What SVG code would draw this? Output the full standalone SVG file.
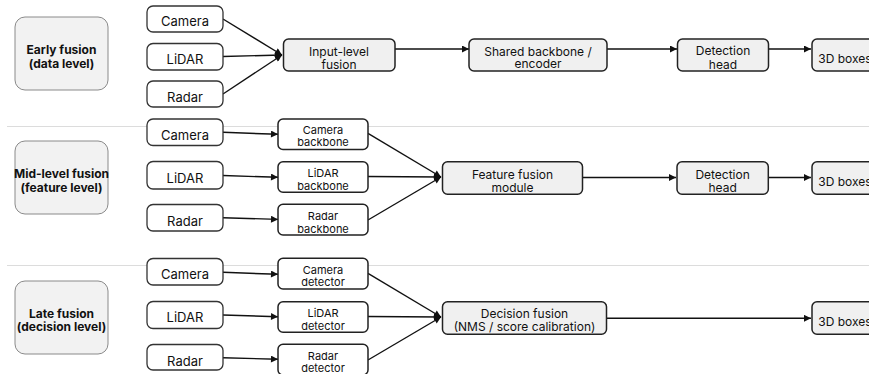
<svg xmlns="http://www.w3.org/2000/svg" width="869" height="374" viewBox="0 0 869 374">
<defs>
<style>
.lab rect{fill:#f2f2f2;stroke:#8a8a8a;stroke-width:1}
.lab text{font-family:Inter,"Liberation Sans",sans-serif;font-size:12px;font-weight:700;fill:#111;text-anchor:middle}
.inp rect{fill:#fff;stroke:#333;stroke-width:1.3}
.inp text{font-family:Inter,"Liberation Sans",sans-serif;font-size:13px;fill:#111;text-anchor:middle}
.mid rect{fill:#f0f0f0;stroke:#222;stroke-width:1.5}
.mid text{font-family:Inter,"Liberation Sans",sans-serif;font-size:12px;fill:#111;text-anchor:middle}
.sm rect{fill:#fff;stroke:#222;stroke-width:1.5}
.sm text{font-family:Inter,"Liberation Sans",sans-serif;font-size:11px;fill:#111;text-anchor:middle}
.sep{stroke:#dcdcdc;stroke-width:1}
.conn line{stroke:#111;stroke-width:1.4;marker-end:url(#ah)}
</style>
<marker id="ah" viewBox="0 0 10 10" refX="10" refY="5" markerWidth="8" markerHeight="7" markerUnits="userSpaceOnUse" orient="auto"><path d="M0,0 L10,5 L0,10 z" fill="#111"/></marker>
</defs>
<rect width="869" height="374" fill="#fff"/>
<line class="sep" x1="7" y1="126.5" x2="869" y2="126.5"/>
<line class="sep" x1="7" y1="265.5" x2="869" y2="265.5"/>

<g id="conn" class="conn">
<line x1="223" y1="19" x2="282" y2="55"/>
<line x1="223" y1="56.5" x2="282" y2="55"/>
<line x1="223" y1="94" x2="282" y2="55"/>
<line x1="395" y1="49" x2="469" y2="49"/>
<line x1="607" y1="49" x2="677" y2="49"/>
<line x1="768" y1="49" x2="811" y2="49"/>

<line x1="223" y1="132.3" x2="278" y2="134.3"/>
<line x1="223" y1="175.5" x2="278" y2="177.3"/>
<line x1="223" y1="217.7" x2="278" y2="219.4"/>
<line x1="368" y1="133.3" x2="441" y2="177"/>
<line x1="368" y1="176.5" x2="441" y2="177"/>
<line x1="368" y1="220" x2="441" y2="177"/>
<line x1="583" y1="177.5" x2="676" y2="177.5"/>
<line x1="768" y1="177.5" x2="811" y2="177.5"/>

<line x1="223" y1="272.3" x2="278" y2="274.3"/>
<line x1="223" y1="315" x2="278" y2="316.7"/>
<line x1="223" y1="357.7" x2="278" y2="359.3"/>
<line x1="368" y1="273.3" x2="441" y2="317"/>
<line x1="368" y1="316.5" x2="441" y2="317"/>
<line x1="368" y1="360" x2="441" y2="317"/>
<line x1="607" y1="318.3" x2="811" y2="318.3"/>
</g>

<g id="lab-early" class="lab"><rect x="15" y="17" width="93" height="73" rx="10"/><text x="61.5" y="53.5">Early fusion</text><text x="61.5" y="67.5">(data level)</text></g>
<g id="lab-mid" class="lab"><rect x="15" y="141" width="93" height="73" rx="10"/><text x="61.5" y="178.3">Mid-level fusion</text><text x="61.5" y="192">(feature level)</text></g>
<g id="lab-late" class="lab"><rect x="15" y="281" width="93" height="73" rx="10"/><text x="61.5" y="317.6">Late fusion</text><text x="61.5" y="331">(decision level)</text></g>

<g id="r1-camera" class="inp"><rect x="147" y="6" width="76" height="26" rx="6"/><text x="185" y="26.4">Camera</text></g>
<g id="r1-lidar" class="inp"><rect x="147" y="43.5" width="76" height="26.5" rx="6"/><text x="185" y="64">LiDAR</text></g>
<g id="r1-radar" class="inp"><rect x="147" y="81" width="76" height="26" rx="6"/><text x="185" y="102">Radar</text></g>

<g id="r2-camera" class="inp"><rect x="147" y="119" width="76" height="26.5" rx="6"/><text x="185" y="139.5">Camera</text></g>
<g id="r2-lidar" class="inp"><rect x="147" y="161.5" width="76" height="27.5" rx="6"/><text x="185" y="183">LiDAR</text></g>
<g id="r2-radar" class="inp"><rect x="147" y="204.5" width="76" height="26.5" rx="6"/><text x="185" y="225.7">Radar</text></g>

<g id="r3-camera" class="inp"><rect x="147" y="258.5" width="76" height="26.5" rx="6"/><text x="185" y="279">Camera</text></g>
<g id="r3-lidar" class="inp"><rect x="147" y="301.5" width="76" height="27" rx="6"/><text x="185" y="322.3">LiDAR</text></g>
<g id="r3-radar" class="inp"><rect x="147" y="344.5" width="76" height="25.5" rx="6"/><text x="185" y="365.7">Radar</text></g>

<g id="input-fusion" class="mid"><rect x="283.5" y="39" width="111.5" height="32" rx="5"/><text x="339" y="55.5">Input-level</text><text x="339" y="68.5">fusion</text></g>
<g id="shared-backbone" class="mid"><rect x="469" y="39" width="138" height="32" rx="5"/><text x="538" y="55.5">Shared backbone /</text><text x="538" y="68">encoder</text></g>
<g id="det-head-1" class="mid"><rect x="677.5" y="39" width="91" height="32" rx="5"/><text x="723" y="54.5">Detection</text><text x="723" y="68.5">head</text></g>
<g id="boxes-1" class="mid"><rect x="812" y="39" width="66" height="32" rx="5"/><text x="845" y="62.5">3D boxes</text></g>

<g id="cam-backbone" class="sm"><rect x="278" y="119" width="90" height="30.5" rx="5"/><text x="323" y="134">Camera</text><text x="323" y="146.3">backbone</text></g>
<g id="lidar-backbone" class="sm"><rect x="278" y="161.7" width="90" height="30.6" rx="5"/><text x="323" y="177.3">LiDAR</text><text x="323" y="189.5">backbone</text></g>
<g id="radar-backbone" class="sm"><rect x="278" y="204.3" width="90" height="30.7" rx="5"/><text x="323" y="219.7">Radar</text><text x="323" y="232.5">backbone</text></g>
<g id="feature-fusion" class="mid"><rect x="442.5" y="161.7" width="140" height="32.6" rx="5"/><text x="512.5" y="178.5">Feature fusion</text><text x="512.5" y="192">module</text></g>
<g id="det-head-2" class="mid"><rect x="677" y="161.7" width="91.3" height="32.6" rx="5"/><text x="722.6" y="178.5">Detection</text><text x="722.6" y="191.7">head</text></g>
<g id="boxes-2" class="mid"><rect x="812" y="161.7" width="66" height="32.6" rx="5"/><text x="845" y="185.5">3D boxes</text></g>

<g id="cam-detector" class="sm"><rect x="278" y="258.3" width="90" height="30.7" rx="5"/><text x="323" y="274">Camera</text><text x="323" y="286.3">detector</text></g>
<g id="lidar-detector" class="sm"><rect x="278" y="301.7" width="90" height="30.6" rx="5"/><text x="323" y="317.3">LiDAR</text><text x="323" y="330">detector</text></g>
<g id="radar-detector" class="sm"><rect x="278" y="344.3" width="90" height="30.7" rx="5"/><text x="323" y="359.7">Radar</text><text x="323" y="372.3">detector</text></g>
<g id="decision-fusion" class="mid"><rect x="442.5" y="301.7" width="164" height="32.6" rx="5"/><text x="524.5" y="317.5">Decision fusion</text><text x="524.5" y="330.7">(NMS / score calibration)</text></g>
<g id="boxes-3" class="mid"><rect x="812" y="301.7" width="66" height="32.6" rx="5"/><text x="845" y="325.5">3D boxes</text></g>
</svg>
